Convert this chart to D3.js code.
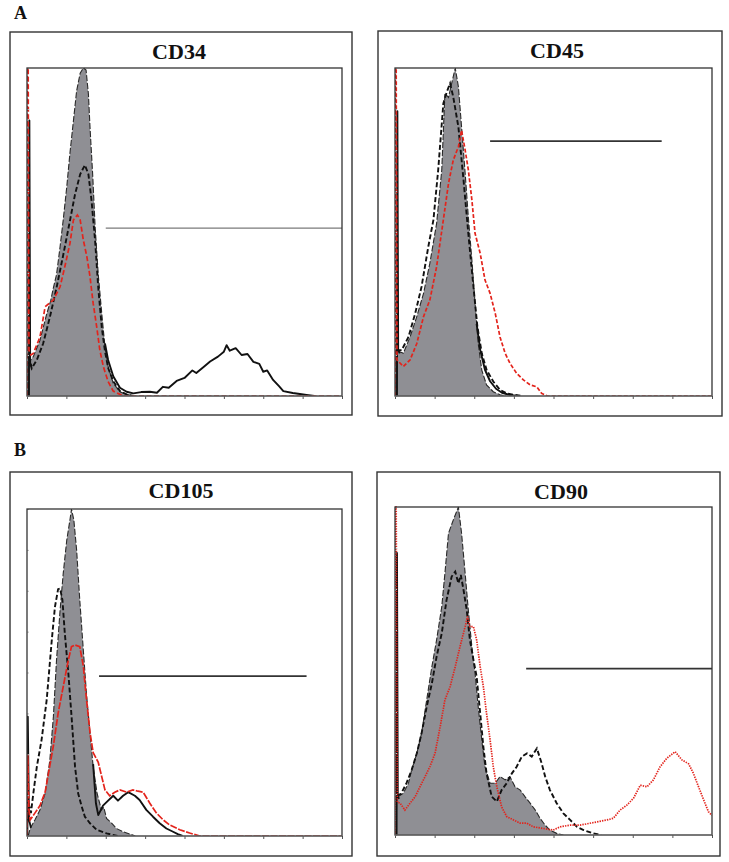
<!DOCTYPE html>
<html>
<head>
<meta charset="utf-8">
<script src="https://cdn.jsdelivr.net/npm/d3@7"></script>
<style>
  html, body { margin: 0; padding: 0; background: #ffffff; }
  svg { display: block; }
  .serif { font-family: "Liberation Serif", "Times New Roman", Times, serif; font-weight: bold; }
</style>
</head>
<body>
<svg id="chart" width="729" height="862"></svg>
<script>
// ---------------- DATA (x: relative fluorescence scale 0–8, y: % of max count) ----------------
const panelTitles = ["CD34", "CD45", "CD105", "CD90"];
const panelLetters = ["A", "B"];
const xTicks = [0, 1, 2, 3, 4, 5, 6, 7, 8];
const yTicks = [0, 12.5, 25, 37.5, 50, 62.5, 75, 87.5, 100];

// CD34
const cd34Gray = [[0.02,0],[0.03,10],[0.16,12],[0.33,17],[0.5,25],[0.6,29],[0.67,33],[0.75,37],[0.84,45.5],[0.92,53.7],[1.01,63.8],[1.09,74],[1.18,84],[1.26,93],[1.35,98.4],[1.43,100],[1.5,99.4],[1.56,92],[1.6,82],[1.67,67],[1.73,51.6],[1.81,37],[1.9,25],[1.98,15],[2.06,9],[2.19,3.9],[2.36,1.3],[2.53,0.5],[2.7,0]];
const cd34Dash = [[0.04,12],[0.12,8.4],[0.25,11],[0.41,16],[0.58,24],[0.75,33],[0.92,43],[1.09,53.4],[1.22,61.5],[1.35,67.6],[1.47,70.4],[1.56,67.6],[1.64,59.5],[1.73,47.3],[1.81,33],[1.9,20.8],[1.98,13.7],[2.06,8.6],[2.19,4.5],[2.36,1.5],[2.53,0.5],[2.7,0]];
const cd34Solid = [[0.05,0],[0.06,84],[0.08,10],[0.12,9],null,[1.98,16],[2.06,11],[2.19,6],[2.36,2.5],[2.53,1.3],[2.7,0.8],[2.9,1.2],[3.12,1.3],[3.3,1.0],[3.45,2.8],[3.6,2.5],[3.8,4.6],[4.0,5.5],[4.2,7.8],[4.3,7],[4.5,9],[4.65,10.5],[4.85,12],[5.0,13.5],[5.07,15.5],[5.15,13.8],[5.3,14.6],[5.45,12.5],[5.6,12.8],[5.75,10.4],[5.9,9.8],[6.0,7.4],[6.1,7.8],[6.25,4.9],[6.4,3],[6.51,1.5],[6.75,0.9],[6.93,0.6],[7.1,0.3],[7.3,0]];
const cd34Red = [[0,0],[0.01,100],[0.03,100],[0.05,14],[0.1,12.5],[0.16,13],[0.33,18],[0.46,27.2],[0.67,29.3],[0.84,33.3],[0.96,39.4],[1.09,46.5],[1.18,53.7],[1.28,55.2],[1.35,53.7],[1.43,47.6],[1.52,42.5],[1.6,36.4],[1.68,28.3],[1.77,21.1],[1.85,14],[1.94,8.9],[2.06,4.4],[2.19,1.5],[2.36,0.5],[2.5,0],[8,0]];
const cd34Cut = [2.0, 8.0, 51.2];

// CD45
const cd45Gray = [[0.02,0],[0.03,14],[0.21,13],[0.38,18],[0.55,24.2],[0.72,31.3],[0.88,40.5],[1.05,52.6],[1.18,68.9],[1.26,92.3],[1.35,91],[1.43,95.3],[1.52,100],[1.6,94.3],[1.68,82],[1.77,68],[1.85,54.7],[1.94,41.5],[2.02,28.3],[2.1,16],[2.19,7.9],[2.31,3.4],[2.48,1.3],[2.65,0.4],[2.8,0]];
const cd45Dash = [[0.04,14],[0.17,14],[0.34,18],[0.51,25.2],[0.67,33.3],[0.84,45.5],[0.97,53.7],[1.09,68.9],[1.22,89.2],[1.31,92.8],[1.39,95.3],[1.47,91.2],[1.6,82],[1.73,65.8],[1.85,49.6],[1.98,33.3],[2.08,21.1],[2.19,13],[2.31,8],[2.48,4.4],[2.65,1.9],[2.82,0.8],[2.99,0.4],[3.2,0]];
const cd45Solid = [[0.05,0],[0.06,86.8],[0.08,14],[0.12,13],null,[2.06,22],[2.15,14],[2.27,8],[2.4,4.5],[2.55,2.2],[2.7,1],[2.9,0.3],[3.1,0]];
const cd45Red = [[0,0],[0.01,100],[0.03,100],[0.05,11],[0.21,9],[0.38,11],[0.55,16],[0.72,24.2],[0.88,29.3],[1.05,39.4],[1.22,53.7],[1.35,64.8],[1.47,71.9],[1.6,76],[1.68,81],[1.77,75],[1.85,69],[1.94,59.8],[2.02,49.6],[2.15,43.5],[2.27,35.4],[2.4,31.3],[2.53,25.2],[2.65,18],[2.78,13],[2.9,10],[3.07,6.9],[3.24,4.9],[3.41,3.4],[3.58,2.8],[3.7,0.8],[3.85,0],[8,0]];
const cd45Cut = [2.4, 6.73, 77.7];

// CD105
const cd105Gray = [[0.03,0],[0.08,2.3],[0.2,4.9],[0.33,8],[0.46,13],[0.58,23.2],[0.67,36.5],[0.75,53.8],[0.84,69],[0.92,80.3],[1.01,90.5],[1.09,96.6],[1.13,100],[1.19,96.6],[1.26,87.5],[1.34,72.2],[1.43,56.9],[1.51,43.6],[1.6,31.4],[1.68,21.2],[1.78,13],[1.89,8],[1.95,8.8],[2.02,5.4],[2.15,3.9],[2.27,2.3],[2.44,1.3],[2.61,0.6],[2.75,0]];
const cd105Dash = [[0.04,10],[0.1,7],[0.16,13],[0.25,21.2],[0.37,29.4],[0.5,41.6],[0.63,60],[0.71,70.1],[0.79,75.5],[0.84,75.7],[0.9,72.2],[0.96,62],[1.05,49.8],[1.13,36.8],[1.22,21.2],[1.3,13],[1.39,9],[1.47,5.9],[1.6,3.9],[1.77,1.9],[2.02,0.8],[2.3,0]];
const cd105Solid = [[0.01,0],[0.02,36.5],[0.05,5],[0.1,2.5],null,[1.68,22],[1.75,10],[1.81,6.4],[1.93,9.3],[2.06,10.8],[2.19,12.3],[2.31,10.8],[2.44,12.3],[2.57,13.4],[2.74,12.3],[2.86,11],[3.03,8],[3.2,5.9],[3.37,3.9],[3.54,2.3],[3.71,1.3],[3.83,0.6],[3.95,0]];
const cd105Red = [[0,0],[0.02,25],[0.05,8],[0.08,4.9],[0.2,7],[0.33,9.3],[0.46,13.4],[0.58,21.5],[0.67,27.6],[0.79,37.5],[0.92,45.7],[1.05,53.8],[1.13,57.9],[1.22,58.4],[1.34,57.9],[1.43,52],[1.51,41.9],[1.6,31.7],[1.68,25.5],[1.81,22.5],[1.98,14.1],[2.1,12.3],[2.23,13.4],[2.36,14.1],[2.53,13.4],[2.69,14.1],[2.82,13.7],[2.95,13.4],[3.12,10],[3.29,7],[3.46,4.9],[3.62,3.4],[3.88,1.9],[4.13,0.9],[4.39,0],[8,0]];
const cd105Cut = [1.83, 7.1, 48.9];

// CD90
const cd90Gray = [[0.03,0],[0.04,11.7],[0.08,11.7],[0.21,12.7],[0.34,15.8],[0.42,19.8],[0.55,24.9],[0.67,31],[0.8,41.2],[0.93,51.3],[1.05,59.5],[1.18,69.6],[1.26,79.8],[1.35,92],[1.47,96],[1.6,100],[1.68,92],[1.77,79.8],[1.85,68.6],[1.94,57.4],[2.02,49.3],[2.1,39.1],[2.19,29],[2.27,20.8],[2.4,15.8],[2.53,15.8],[2.65,17.8],[2.78,16.8],[2.9,17.8],[3.03,14.7],[3.16,13.7],[3.28,11.7],[3.41,9.7],[3.54,7.6],[3.66,5.1],[3.79,3],[3.91,1.5],[4.08,0.5],[4.25,0]];
const cd90Dash = [[0.05,12],[0.15,12.5],[0.29,15.8],[0.42,19.8],[0.55,24.9],[0.67,31],[0.8,39.1],[0.93,46.2],[1.05,54.4],[1.18,61.5],[1.3,71.6],[1.43,78.8],[1.52,80.3],[1.6,76.7],[1.66,79.3],[1.73,74.7],[1.81,68.6],[1.89,59.5],[1.98,53.4],[2.06,48.3],[2.15,37.1],[2.23,26.9],[2.31,18.8],[2.44,11.7],[2.57,10.2],[2.69,13.7],[2.82,15.8],[2.95,18.8],[3.07,20.8],[3.2,23.9],[3.33,24.9],[3.45,23.9],[3.58,26.4],[3.7,21.9],[3.79,17.8],[3.91,13.7],[4.08,9.7],[4.25,6.6],[4.42,4.6],[4.59,2.5],[4.76,1.5],[5.0,0.5],[5.2,0]];
const cd90Solid = [[0.04,0],[0.05,86],[0.07,12],[0.1,11]];
const cd90Red = [[0,0],[0.01,100],[0.03,100],[0.06,10],[0.13,9.7],[0.25,7.6],[0.38,9.7],[0.51,11.7],[0.63,14.7],[0.76,17.8],[0.88,20.8],[1.01,24.9],[1.14,33],[1.26,41.2],[1.39,45.2],[1.52,51.3],[1.64,57.4],[1.77,63.5],[1.83,66.6],[1.89,63.5],[1.98,63.5],[2.06,59.5],[2.15,51.3],[2.23,45.2],[2.31,37.1],[2.4,29],[2.48,20.8],[2.57,14.7],[2.69,8.6],[2.82,5.6],[2.99,4.6],[3.16,3.6],[3.33,3.6],[3.49,2.5],[3.74,2],[3.99,1.5],[4.17,2.5],[4.42,3],[4.67,3],[5.01,3.8],[5.35,4.6],[5.51,5.1],[5.68,7.6],[5.85,9.1],[6.02,11.2],[6.19,15.2],[6.36,14.7],[6.52,16.8],[6.69,20.8],[6.86,23.4],[7.07,25.4],[7.24,22.9],[7.41,21.7],[7.53,18.8],[7.66,14.7],[7.79,10.7],[7.91,7.1],[8,6]];
const cd90Cut = [3.31, 8.0, 50.7];

// ---------------- LAYOUT ----------------
const panels = [
  { title: panelTitles[0], gray: cd34Gray, dash: cd34Dash, solid: cd34Solid, red: cd34Red, cut: cd34Cut,
    box: [10, 32, 352, 415], plot: [27, 68, 342, 396], tx: 179, ty: 59, redDash: "5,2.5", cutColor: "#7a7a7a", cutW: 1.2 },
  { title: panelTitles[1], gray: cd45Gray, dash: cd45Dash, solid: cd45Solid, red: cd45Red, cut: cd45Cut,
    box: [378, 31, 722, 416], plot: [395, 68, 712, 396], tx: 557, ty: 58, redDash: "4,2", cutColor: "#333", cutW: 1.8 },
  { title: panelTitles[2], gray: cd105Gray, dash: cd105Dash, solid: cd105Solid, red: cd105Red, cut: cd105Cut,
    box: [10, 472, 352, 856], plot: [27, 509, 342, 836], tx: 181, ty: 498, redDash: "7,1.5", cutColor: "#333", cutW: 1.8 },
  { title: panelTitles[3], gray: cd90Gray, dash: cd90Dash, solid: cd90Solid, red: cd90Red, cut: cd90Cut,
    box: [377, 472, 720, 856], plot: [395, 507, 712, 835], tx: 561, ty: 499, redDash: "1.4,1.1", cutColor: "#333", cutW: 1.8 }
];

const svg = d3.select("#chart");
svg.append("rect").attr("width", 729).attr("height", 862).attr("fill", "#fff");

// panel letters
svg.append("text").attr("class", "serif").attr("x", 14).attr("y", 19).text(panelLetters[0])
  .attr("font-size", 18).attr("fill", "#111");
svg.append("text").attr("class", "serif").attr("x", 14).attr("y", 456).text(panelLetters[1])
  .attr("font-size", 18).attr("fill", "#111");

panels.forEach((p, i) => {
  const g = svg.append("g");
  const [bx0, by0, bx1, by1] = p.box;
  const [px0, py0, px1, py1] = p.plot;

  g.append("rect").attr("x", bx0).attr("y", by0).attr("width", bx1 - bx0).attr("height", by1 - by0)
    .attr("fill", "none").attr("stroke", "#333").attr("stroke-width", 1.4);

  g.append("text").attr("class", "serif").attr("x", p.tx).attr("y", p.ty).attr("text-anchor", "middle").text(p.title)
    .attr("font-size", 22).attr("fill", "#111");

  const x = d3.scaleLinear().domain([0, 8]).range([px0, px1]);
  const y = d3.scaleLinear().domain([0, 100]).range([py1, py0]);

  const clipId = "clip" + i;
  g.append("clipPath").attr("id", clipId).append("rect")
    .attr("x", px0).attr("y", py0 - 1).attr("width", px1 - px0).attr("height", py1 - py0 + 1);

  const plotG = g.append("g").attr("clip-path", `url(#${clipId})`);

  const area = d3.area().x(d => x(d[0])).y0(y(0)).y1(d => y(d[1]));
  const line = d3.line().defined(d => d !== null).x(d => x(d[0])).y(d => y(d[1]));

  plotG.append("path").datum(p.gray).attr("d", area).attr("fill", "#8f8f94").attr("stroke", "none");
  plotG.append("path").datum(p.gray).attr("d", line).attr("fill", "none")
    .attr("stroke", "#2a2a2a").attr("stroke-width", 1.1).attr("stroke-dasharray", "6,2");

  plotG.append("path").datum(p.solid).attr("d", line).attr("fill", "none")
    .attr("stroke", "#111").attr("stroke-width", 1.9).attr("stroke-linejoin", "round");
  plotG.append("path").datum(p.dash).attr("d", line).attr("fill", "none")
    .attr("stroke", "#111").attr("stroke-width", 1.9).attr("stroke-dasharray", "5,2.5");
  plotG.append("path").datum(p.red).attr("d", line).attr("fill", "none")
    .attr("stroke", "#e3241c").attr("stroke-width", 1.7).attr("stroke-dasharray", p.redDash);

  // gate marker
  g.append("line").attr("x1", x(p.cut[0])).attr("x2", x(p.cut[1]))
    .attr("y1", y(p.cut[2])).attr("y2", y(p.cut[2]))
    .attr("stroke", p.cutColor).attr("stroke-width", p.cutW);

  // axes
  const xa = g.append("g").attr("transform", `translate(0,${py1})`)
    .call(d3.axisBottom(x).tickValues(xTicks).tickSize(3).tickFormat(""));
  xa.select(".domain").remove();
  xa.selectAll("line").attr("stroke", "#555");

  const ya = g.append("g").attr("transform", `translate(${px0},0)`)
    .call(d3.axisLeft(y).tickValues(yTicks).tickSize(-2).tickFormat(""));
  ya.select(".domain").remove();
  ya.selectAll("line").attr("stroke", "#bbb");

  // plot frame
  g.append("rect").attr("x", px0).attr("y", py0).attr("width", px1 - px0).attr("height", py1 - py0)
    .attr("fill", "none").attr("stroke", "#333").attr("stroke-width", 1.3);
  g.append("line").attr("x1", px0).attr("x2", px1).attr("y1", py1).attr("y2", py1)
    .attr("stroke", "#777").attr("stroke-width", 1.2);
});
</script>
</body>
</html>
